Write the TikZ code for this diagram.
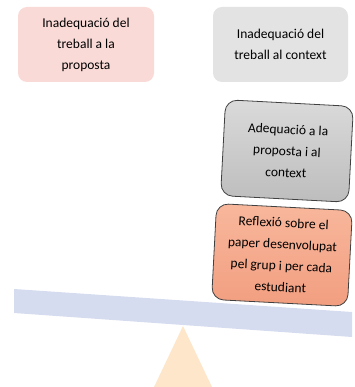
\documentclass[tikz,border=0pt]{standalone}
\usepackage{fontspec}
\setmainfont{Carlito}
\definecolor{pinkbox}{HTML}{F9DAD6}
\definecolor{graybox}{HTML}{E3E3E3}
\definecolor{beamcol}{HTML}{D6DCEF}
\definecolor{triancol}{HTML}{FDE6CA}
\definecolor{salmontop}{HTML}{F8B79C}
\definecolor{salmonbot}{HTML}{F29E80}
\definecolor{graytop}{HTML}{DADADA}
\definecolor{graybot}{HTML}{BDBDBD}
\definecolor{edgecol}{HTML}{404040}
\tikzset{
  flatbox/.style={rounded corners=9pt, align=center, font=\fontsize{13.5}{21}\selectfont, inner sep=2pt},
  tiltbox/.style={rounded corners=12pt, draw=edgecol, line width=0.8pt, align=center, font=\fontsize{13.5}{21.5}\selectfont, inner sep=2pt, rotate=-3},
}
\begin{document}
\begin{tikzpicture}[x=1pt,y=-1pt]
\useasboundingbox (0,0) rectangle (354,387);
% beam and fulcrum
\fill[triancol] (183,326) -- (212,387) -- (154,387) -- cycle;
\fill[beamcol] (14,289) -- (352,312) -- (352,337) -- (14,313) -- cycle;
% top boxes
\node[flatbox, fill=pinkbox, minimum width=136pt, minimum height=75pt] (inprop) at (86,44.5)
  {Inadequació del\\treball a la\\proposta};
\node[flatbox, fill=graybox, minimum width=135pt, minimum height=75pt] (inctx) at (280.5,44.5)
  {Inadequació del\\treball al context};
% stacked boxes
\node[tiltbox, top color=graytop, bottom color=graybot, minimum width=128pt, minimum height=96pt] (adeq) at (287,151)
  {Adequació a la\\proposta i al\\context};
\node[tiltbox, top color=salmontop, bottom color=salmonbot, minimum width=136pt, minimum height=96pt] (refl) at (282,255)
  {Reflexió sobre el\\paper desenvolupat\\pel grup i per cada\\estudiant};
\end{tikzpicture}
\end{document}
